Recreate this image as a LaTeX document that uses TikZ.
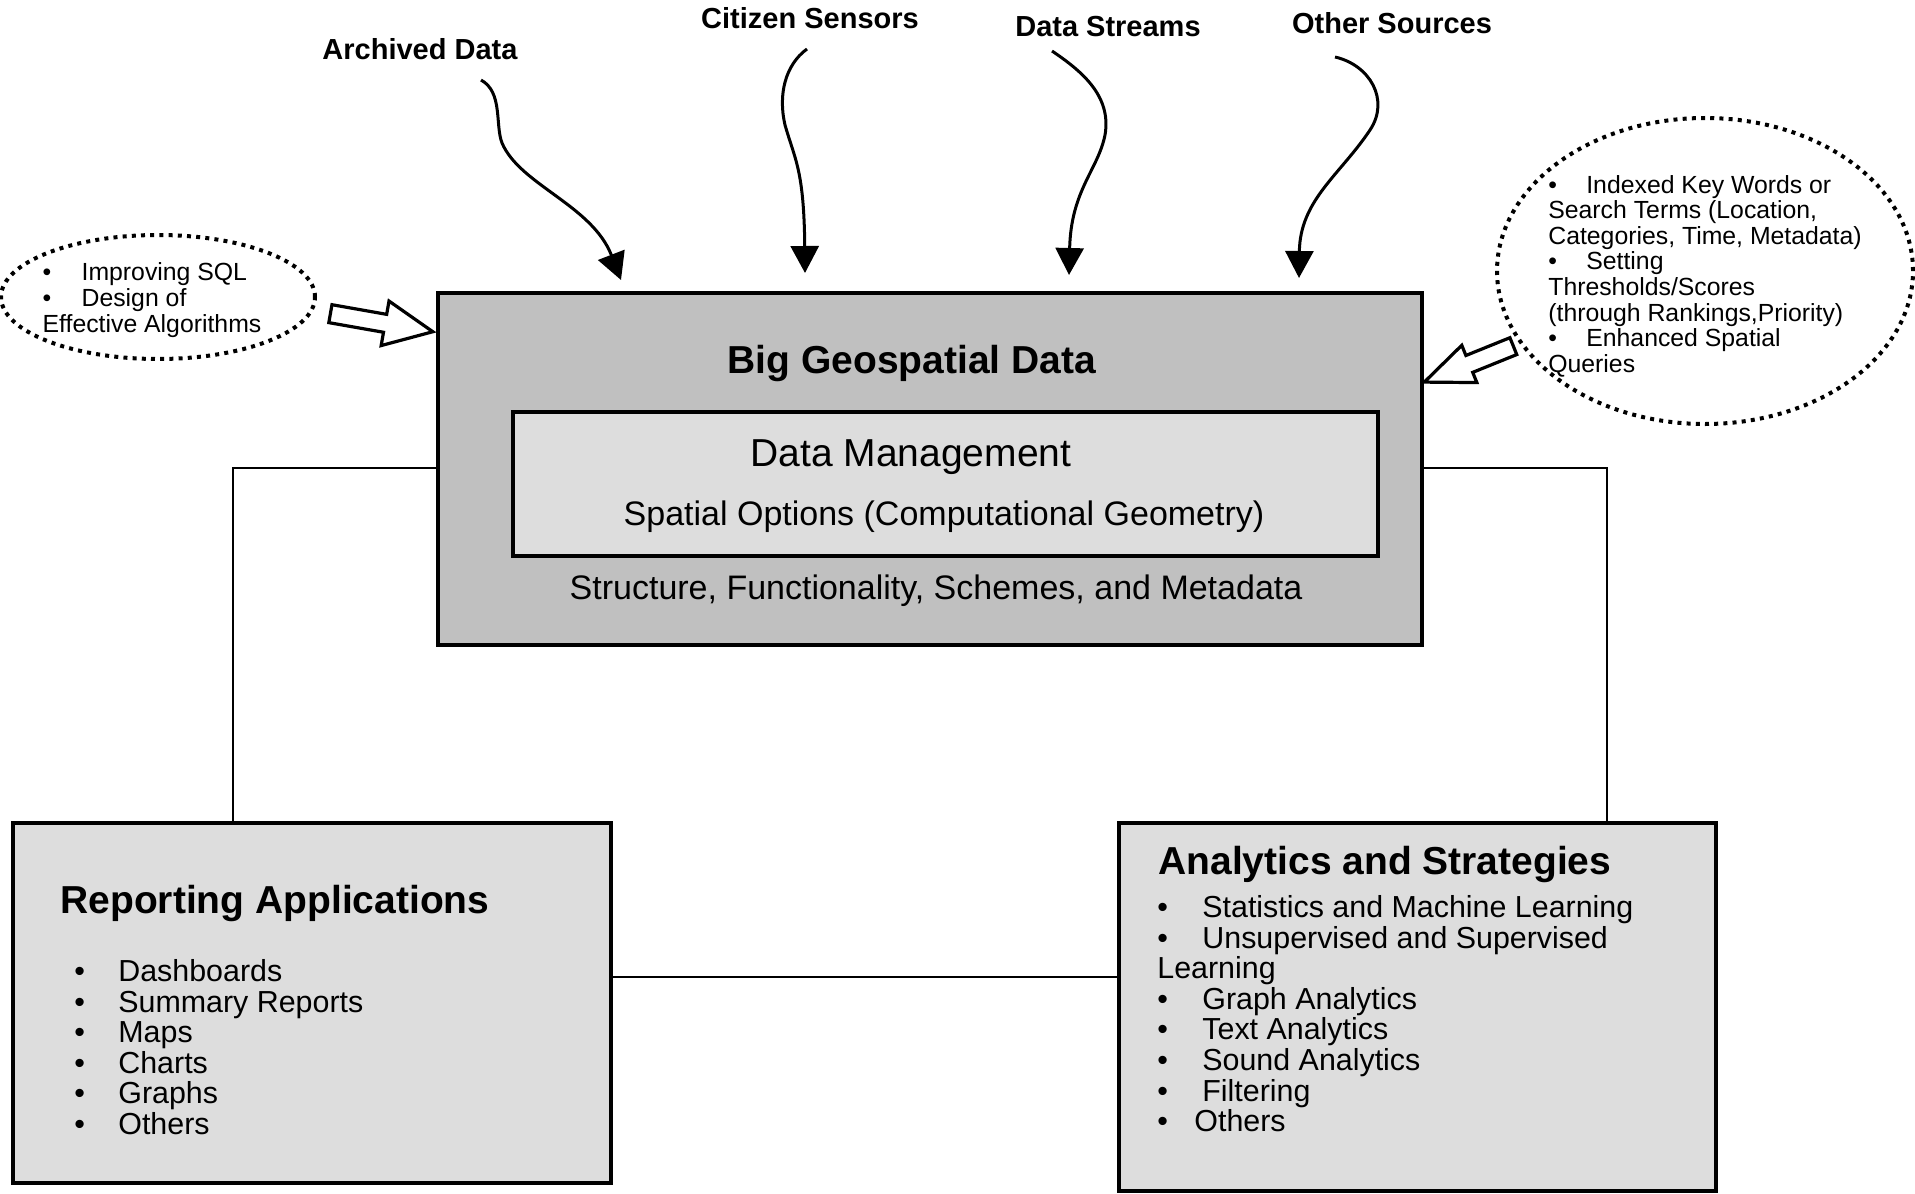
\documentclass[tikz,border=0pt]{standalone}
\usepackage{fontspec}
\setmainfont{Liberation Sans}
\usetikzlibrary{arrows.meta,shapes.arrows,shapes.geometric}
\definecolor{geogray}{RGB}{192,192,192}
\definecolor{panelgray}{RGB}{221,221,221}
\newcommand{\bul}[1][22pt]{\makebox[#1][l]{\textbullet}}
\tikzset{
  srclabel/.style={font=\fontsize{14.5}{16}\selectfont\bfseries, inner sep=0pt},
  feed/.style={line width=1.5pt, -{Triangle[length=13.5pt,width=14pt]}},
  link/.style={draw, line width=1.2pt}
}

\begin{document}
\begin{tikzpicture}[x=0.5pt, y=-0.5pt,
  mainbox/.style={draw, line width=1.6pt, fill=geogray, minimum width=492pt, minimum height=176pt},
  innerbox/.style={draw, line width=1.6pt, fill=panelgray, minimum width=432.5pt, minimum height=72pt},
  appbox/.style={draw, line width=1.6pt, fill=panelgray, minimum width=299pt},
  boxtitle/.style={font=\fontsize{19.5}{22}\selectfont\bfseries, inner sep=0pt},
  itemtext/.style={font=\fontsize{15.2}{15.3}\selectfont, align=left, inner sep=0pt},
  dotell/.style={draw, ellipse, line width=2pt, dash pattern=on 2pt off 2.6pt, inner sep=0pt},
  notes/.style={font=\fontsize{12.4}{12.8}\selectfont, align=left, inner sep=0pt},
  hollowarrow/.style={draw, single arrow, line width=1.6pt, fill=white, inner sep=3.75pt,
    single arrow head extend=6.75pt, single arrow tip angle=50}]
\useasboundingbox (0,0) rectangle (1915,1193);

% central store
\node[mainbox] (geo) at (930,469) {};
\node[boxtitle] (geotitle) at (912,363) {Big Geospatial Data};
\node[innerbox] (dm) at (945.5,484) {};
\node[font=\fontsize{19.5}{22}\selectfont, inner sep=0pt] (dmtitle) at (911,457) {Data Management};
\node[font=\fontsize{17}{20}\selectfont, inner sep=0pt] (spatial) at (944,517) {Spatial Options (Computational Geometry)};
\node[font=\fontsize{17}{20}\selectfont, inner sep=0pt] (struct) at (936,591) {Structure, Functionality, Schemes, and Metadata};

% sources
\node[srclabel] (archived) at (420,49) {Archived Data};
\node[srclabel] (citizen) at (810,18) {Citizen Sensors};
\node[srclabel] (streams) at (1108,27) {Data Streams};
\node[srclabel] (other) at (1392,23) {Other Sources};
\coordinate (archS) at (481,80);   \coordinate (archT) at (621,280);
\coordinate (citS) at (807,49);    \coordinate (citT) at (805,273);
\coordinate (strS) at (1052,51);   \coordinate (strT) at (1069,275);
\coordinate (othS) at (1335,57);   \coordinate (othT) at (1299,278);
\draw[feed] (archS) .. controls (503,92) and (495,125) .. (502,143)
  .. controls (520,185) and (592,205) .. (archT);
\draw[feed] (citS) .. controls (785,65) and (778,95) .. (785,125)
  .. controls (795,160) and (804,170) .. (citT);
\draw[feed] (strS) .. controls (1080,70) and (1112,95) .. (1105,135)
  .. controls (1098,170) and (1071,190) .. (strT);
\draw[feed] (othS) .. controls (1370,65) and (1390,100) .. (1370,130)
  .. controls (1340,175) and (1300,200) .. (othT);

% side notes
\node[dotell, minimum width=157pt, minimum height=62pt] (lell) at (158,297) {};
\node[notes] (ltxt) at (152,300) {\bul[19.5pt]Improving SQL\\ \bul[19.5pt]Design of\\ Effective Algorithms};
\node[dotell, minimum width=208pt, minimum height=153pt] (rell) at (1705,271) {};
\node[notes] (rtxt) at (1705,276) {\bul[19pt]Indexed Key Words or\\ Search Terms (Location,\\ Categories, Time, Metadata)\\
  \bul[19pt]Setting\\ Thresholds/Scores\\ (through Rankings,Priority)\\ \bul[19pt]Enhanced Spatial\\ Queries};
\node[hollowarrow, minimum height=52pt, rotate=-10] (larr) at (372,321) {};
\node[hollowarrow, minimum height=48pt, single arrow head extend=5.5pt, single arrow tip angle=45, rotate=202] (rarr) at (1479,360) {};

% applications
\node[appbox, minimum height=180pt] (rep) at (312,1003) {};
\node[boxtitle, anchor=west] (reptitle) at (60,903) {Reporting Applications};
\node[itemtext, anchor=north west] (replist) at (74,959) {\bul Dashboards\\ \bul Summary Reports\\ \bul Maps\\ \bul Charts\\ \bul Graphs\\ \bul Others};
\node[appbox, minimum width=298.5pt, minimum height=184pt] (ana) at (1417.5,1007) {};
\node[boxtitle, anchor=west] (anatitle) at (1158,864) {Analytics and Strategies};
\node[itemtext, anchor=north west] (analist) at (1157,895) {\bul[22.5pt]Statistics and Machine Learning\\ \bul[22.5pt]Unsupervised and Supervised\\ Learning\\
  \bul[22.5pt]Graph Analytics\\ \bul[22.5pt]Text Analytics\\ \bul[22.5pt]Sound Analytics\\ \bul[22.5pt]Filtering\\ \bul[18.5pt]Others};

% connectors
\coordinate (lj) at (233,468);
\coordinate (rj) at (1607,468);
\draw[link] (geo.west |- lj) -- (lj) -- (lj |- rep.north);
\draw[link] (geo.east |- rj) -- (rj) -- (rj |- ana.north);
\draw[link] (rep.east |- 0,977) -- (ana.west |- 0,977);
\end{tikzpicture}
\end{document}
